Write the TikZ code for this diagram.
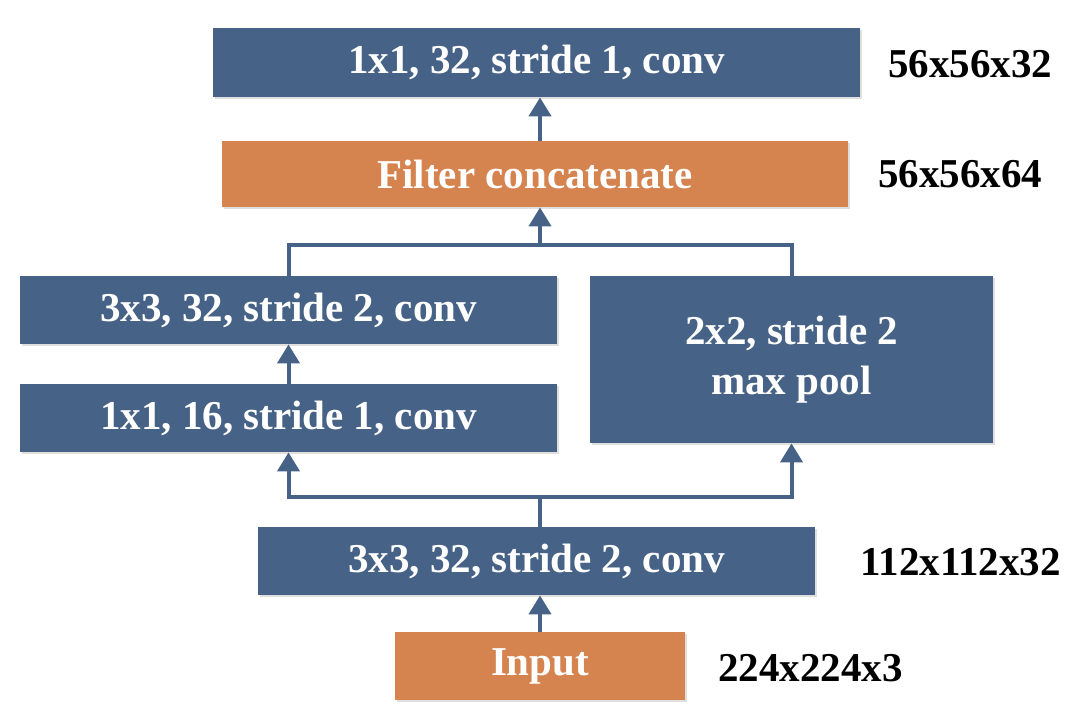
\documentclass[tikz,border=0pt]{standalone}
\usepackage{fontspec}
\setmainfont{Liberation Serif}
\usetikzlibrary{arrows.meta,positioning,shadows}
\definecolor{layerblue}{RGB}{70,98,134}
\definecolor{layerorange}{RGB}{213,131,79}
\tikzset{
  layer/.style={rectangle, fill=layerblue, text=white, inner sep=0pt, align=center,
    font=\bfseries\fontsize{20.5}{25}\selectfont,
    drop shadow={shadow xshift=0.8pt, shadow yshift=-1.2pt, opacity=0.25}},
  datalayer/.style={layer, fill=layerorange},
  shape label/.style={anchor=west, inner sep=0pt, font=\bfseries\fontsize{20.5}{25}\selectfont},
  line/.style={draw=layerblue, line width=2pt},
  link/.style={line, -{Triangle[width=11pt,length=9.5pt]}}
}
\begin{document}
\begin{tikzpicture}[x=0.5pt,y=-0.5pt]
\useasboundingbox (0,0) rectangle (1080,712);

% layers
\node [layer, minimum width=323.5pt, minimum height=34.5pt] (out) at (536.5,62.5) {1x1, 32, stride 1, conv};
\node [datalayer, minimum width=313pt, minimum height=33pt] (concat) at (535,174) {Filter concatenate};
\node [layer, minimum width=268.5pt, minimum height=34pt] (expand) at (288.5,310) {3x3, 32, stride 2, conv};
\node [layer, minimum width=268.5pt, minimum height=34pt] (reduce) at (288.5,418) {1x1, 16, stride 1, conv};
\node [layer, minimum width=201.5pt, minimum height=83.5pt] (pool) at (791.5,359.5) {2x2, stride 2\\max pool};
\node [layer, minimum width=278.5pt, minimum height=34pt] (stem) at (536.5,561) {3x3, 32, stride 2, conv};
\node [datalayer, minimum width=145pt, minimum height=34pt] (in) at (540,666) {Input};

% sizes
\node [shape label] (s1) at (888,64) {56x56x32};
\node [shape label] (s2) at (878,174) {56x56x64};
\node [shape label] (s3) at (860,562) {112x112x32};
\node [shape label] (s4) at (718,668) {224x224x3};

% connections
\coordinate (fork) at (540,497);
\coordinate (join) at (540,245);
\draw [link] (in.north) -- (in.north |- stem.south);
\draw [line] (stem.north -| fork) -- (fork);
\draw [link] (fork) -| (reduce.south);
\draw [link] (fork) -| (pool.south);
\draw [link] (reduce.north) -- (expand.south);
\draw [line] (expand.north) |- (join) -| (pool.north);
\draw [link] (join) -- (join |- concat.south);
\draw [link] (concat.north -| join) -- (join |- out.south);
\end{tikzpicture}
\end{document}
